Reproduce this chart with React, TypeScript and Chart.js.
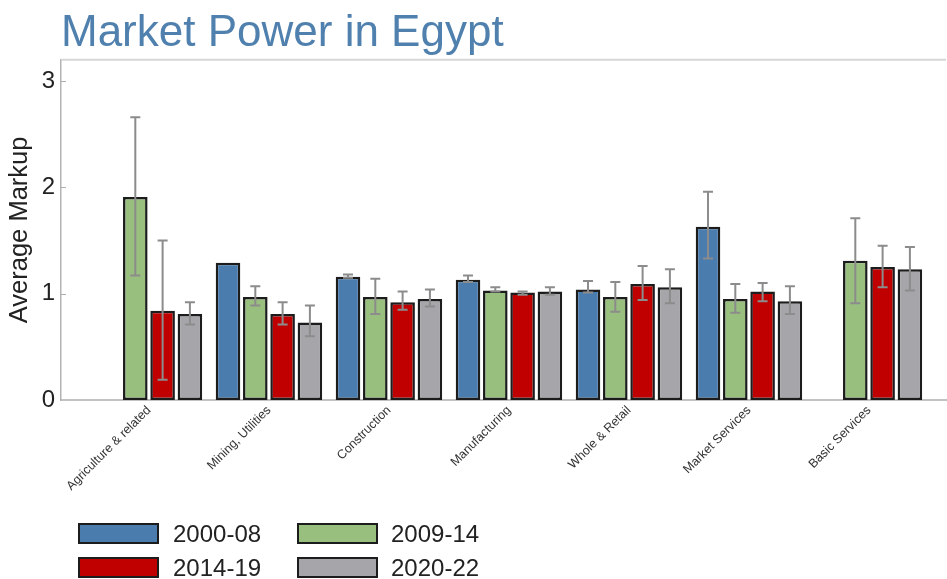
import React, { useEffect, useRef } from "react";
import { Chart, registerables } from "chart.js";
Chart.register(...registerables);

const categories = [
  "Agriculture & related",
  "Mining, Utilities",
  "Construction",
  "Manufacturing",
  "Whole & Retail",
  "Market Services",
  "Basic Services",
];
const seriesNames = ["2000-08", "2009-14", "2014-19", "2020-22"];
const seriesColors = ["#4a7cae", "#99bf7e", "#c00000", "#a6a6aa"];

const s2000 = [null, 1.29, 1.16, 1.13, 1.04, 1.63, null];
const s2000Lo = [null, null, 1.15, 1.11, 1.01, 1.33, null];
const s2000Hi = [null, null, 1.18, 1.17, 1.12, 1.96, null];

const s2009 = [1.91, 0.97, 0.97, 1.03, 0.97, 0.95, 1.31];
const s2009Lo = [1.17, 0.89, 0.81, 1.02, 0.83, 0.82, 0.91];
const s2009Hi = [2.66, 1.07, 1.14, 1.06, 1.11, 1.09, 1.71];

const s2014 = [0.84, 0.81, 0.92, 1.01, 1.09, 1.02, 1.25];
const s2014Lo = [0.19, 0.71, 0.85, 0.99, 0.94, 0.93, 1.06];
const s2014Hi = [1.5, 0.92, 1.02, 1.02, 1.26, 1.1, 1.45];

const s2020 = [0.81, 0.73, 0.95, 1.02, 1.06, 0.93, 1.23];
const s2020Lo = [0.71, 0.6, 0.88, 0.99, 0.91, 0.81, 1.03];
const s2020Hi = [0.92, 0.89, 1.04, 1.06, 1.23, 1.07, 1.44];

const yTicks = [0, 1, 2, 3];

const allValues = [s2000, s2009, s2014, s2020];
const allLo = [s2000Lo, s2009Lo, s2014Lo, s2020Lo];
const allHi = [s2000Hi, s2009Hi, s2014Hi, s2020Hi];

const FONT = "'Liberation Sans', Arial, Helvetica, sans-serif";

const errorBarPlugin = {
  id: "errorBars",
  afterDatasetsDraw(chart: any) {
    const ctx = chart.ctx;
    const yScale = chart.scales.y;
    ctx.save();
    ctx.strokeStyle = "#8c8c8c";
    ctx.lineWidth = 2;
    chart.data.datasets.forEach((ds: any, i: number) => {
      const meta = chart.getDatasetMeta(i);
      const lo = allLo[i];
      const hi = allHi[i];
      meta.data.forEach((el: any, j: number) => {
        if (lo[j] == null || hi[j] == null || allValues[i][j] == null) return;
        const x = el.x;
        const yl = yScale.getPixelForValue(lo[j]);
        const yh = yScale.getPixelForValue(hi[j]);
        const cap = 5;
        ctx.beginPath();
        ctx.moveTo(x, yl);
        ctx.lineTo(x, yh);
        ctx.moveTo(x - cap, yh);
        ctx.lineTo(x + cap, yh);
        ctx.moveTo(x - cap, yl);
        ctx.lineTo(x + cap, yl);
        ctx.stroke();
      });
    });
    ctx.restore();
  },
};

const framePlugin = {
  id: "frame",
  afterDraw(chart: any) {
    const { ctx, chartArea } = chart;
    const yScale = chart.scales.y;
    ctx.save();
    ctx.strokeStyle = "#d6d6d6";
    ctx.lineWidth = 2;
    ctx.beginPath();
    ctx.moveTo(chartArea.left, chartArea.top);
    ctx.lineTo(chartArea.right, chartArea.top);
    ctx.stroke();
    ctx.strokeStyle = "#b0b0b0";
    ctx.lineWidth = 1;
    yTicks.forEach((t) => {
      if (t === 0) return;
      const y = Math.round(yScale.getPixelForValue(t)) + 0.5;
      ctx.beginPath();
      ctx.moveTo(chartArea.left, y);
      ctx.lineTo(chartArea.left + 5, y);
      ctx.stroke();
    });
    ctx.restore();
  },
};

function ChartCanvas() {
  const ref = useRef<HTMLCanvasElement | null>(null);
  useEffect(() => {
    if (!ref.current) return;
    const datasets = seriesNames.map((name, i) => ({
      label: name,
      data: categories.map((_, j) => ({ x: j, y: allValues[i][j] })),
      backgroundColor: seriesColors[i],
      borderColor: "#1c1c1c",
      borderWidth: 2.5,
      borderSkipped: false,
      categoryPercentage: 0.91,
      barPercentage: 0.9,
    }));
    const chart = new Chart(ref.current, {
      type: "bar",
      data: { datasets } as any,
      plugins: [errorBarPlugin, framePlugin],
      options: {
        animation: false,
        responsive: false,
        layout: { padding: { left: 0, right: 1, top: 0, bottom: 0 } },
        plugins: {
          legend: { display: false },
          tooltip: { enabled: false },
          title: {
            display: true,
            text: "Market Power in Egypt",
            align: "start",
            fullSize: false,
            color: "#5081ae",
            font: { size: 44, family: FONT, weight: "normal" },
            padding: { top: 7, bottom: 0 },
          },
        },
        scales: {
          x: {
            type: "linear",
            offset: false,
            min: -0.733,
            max: 6.642,
            grid: { display: false, drawTicks: false, offset: false },
            border: { display: true, color: "#c2c2c2", width: 2 },
            afterBuildTicks: (scale: any) => {
              scale.ticks = categories.map((_, i) => ({ value: i }));
            },
            afterFit: (scale: any) => {
              scale.height = 179;
            },
            ticks: {
              autoSkip: false,
              minRotation: 45,
              maxRotation: 45,
              padding: 3,
              color: "#333333",
              font: { size: 12.5, family: FONT },
              callback: (v: any) => categories[v as number] ?? "",
            },
          },
          y: {
            min: 0,
            max: 3.2,
            grid: { display: false, drawTicks: false },
            border: { display: true, color: "#b4b4b4", width: 1.5 },
            afterBuildTicks: (scale: any) => {
              scale.ticks = yTicks.map((v) => ({ value: v }));
            },
            afterFit: (scale: any) => {
              scale.width = 61;
            },
            ticks: {
              padding: 6,
              color: "#222222",
              font: { size: 24, family: FONT },
            },
            title: {
              display: true,
              text: "Average Markup",
              color: "#222222",
              font: { size: 25.5, family: FONT },
              padding: { top: 5, bottom: 0 },
            },
          },
        },
      } as any,
    });
    return () => chart.destroy();
  }, []);
  return <canvas ref={ref} width={947} height={579} style={{ display: "block" }} />;
}

const legendPos = [
  { box: 78, text: 173, top: 523 },
  { box: 297, text: 391, top: 523 },
  { box: 78, text: 173, top: 557 },
  { box: 297, text: 391, top: 557 },
];

export default function App() {
  return (
    <div style={{ position: "fixed", left: 0, top: 0, width: 947, height: 579, background: "#fff", overflow: "hidden" }}>
      <ChartCanvas />
      {seriesNames.map((name, i) => (
        <React.Fragment key={name}>
          <div
            style={{
              position: "absolute",
              left: legendPos[i].box,
              top: legendPos[i].top,
              width: 81,
              height: 21,
              boxSizing: "border-box",
              background: seriesColors[i],
              border: "2px solid #1c1c1c",
            }}
          />
          <div
            style={{
              position: "absolute",
              left: legendPos[i].text,
              top: legendPos[i].top - 4,
              height: 29,
              lineHeight: "29px",
              fontFamily: FONT,
              fontSize: 24,
              color: "#222",
              whiteSpace: "nowrap",
            }}
          >
            {name}
          </div>
        </React.Fragment>
      ))}
    </div>
  );
}
